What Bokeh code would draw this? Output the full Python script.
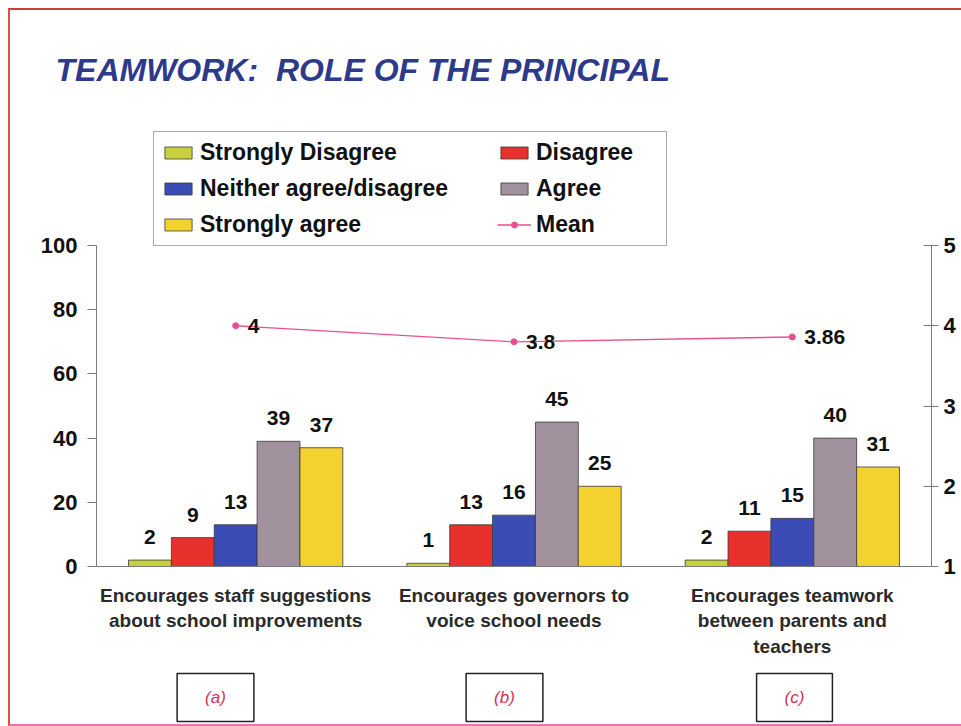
from bokeh.plotting import figure
from bokeh.layouts import column
from bokeh.models import (FactorRange, Range1d, LinearAxis, Legend, LegendItem,
                          Label, ColumnDataSource)
from bokeh.transform import dodge
from bokeh.core.properties import value
from bokeh.embed import file_html
from bokeh.resources import INLINE

# ---------------- data ----------------
categories = [
    "Encourages staff suggestions\nabout school improvements",
    "Encourages governors to\nvoice school needs",
    "Encourages teamwork\nbetween parents and\nteachers",
]
series_names = ["Strongly Disagree", "Disagree", "Neither agree/disagree",
                "Agree", "Strongly agree"]
strongly_disagree = [2, 1, 2]
disagree = [9, 13, 11]
neither = [13, 16, 15]
agree = [39, 45, 40]
strongly_agree = [37, 25, 31]
mean_values = [4, 3.8, 3.86]
mean_labels = ["4", "3.8", "3.86"]
panel_labels = ["(a)", "(b)", "(c)"]
left_ticks = [0, 20, 40, 60, 80, 100]
right_ticks = [1, 2, 3, 4, 5]
title_text = "TEAMWORK:\u00a0 ROLE OF THE PRINCIPAL"

series_colors = ["#c9d03e", "#e8302c", "#3b4cb6", "#a0919d", "#f3d12f"]
FONT = value("Liberation Sans")

W = 951
TOP_H = 95      # title strip
MAIN_H = 562    # axes + legend
BOT_H = 57      # (a) (b) (c) boxes
FRAME_H = 321   # pixel height of 0..100
EXT = (MAIN_H - 101) / FRAME_H   # frame extends above 100 to hold the legend


def free_frame(fig):
    """Let a strip figure use its whole canvas as frame; return x shift."""
    if "frame_align" in fig.properties():
        fig.frame_align = False
        return 0
    return 86


# ---------------- title strip ----------------
pt = figure(width=W, height=TOP_H, x_range=Range1d(0, 1), y_range=Range1d(0, 1),
            x_axis_type=None, y_axis_type=None, output_backend="svg",
            toolbar_location=None, min_border=0)
pt.outline_line_color = None
pt.grid.grid_line_color = None
sh = free_frame(pt)
pt.add_layout(Label(x=45 - sh, y=36, x_units="screen", y_units="screen",
                    text=title_text, text_font="Liberation Sans",
                    text_font_size="32px", text_font_style="bold italic",
                    text_color="#2d3a8c", text_baseline="alphabetic"))

# ---------------- main chart ----------------
p = figure(width=W, height=MAIN_H,
           x_range=FactorRange(*categories), y_range=Range1d(0, 100 * EXT),
           output_backend="svg", toolbar_location=None,
           min_border_left=86, min_border_right=30,
           min_border_top=0, min_border_bottom=101)
p.outline_line_color = None
p.xgrid.grid_line_color = None
p.ygrid.grid_line_color = None

ya = p.yaxis[0]
ya.ticker = left_ticks
ya.bounds = (0, 100)
ya.major_tick_in = 0
ya.major_tick_out = 9
ya.minor_tick_line_color = None
ya.axis_line_color = "#7a7a7a"
ya.major_tick_line_color = "#7a7a7a"
ya.major_label_text_font = "Liberation Sans"
ya.major_label_text_font_size = "22px"
ya.major_label_text_font_style = "bold"
ya.major_label_text_color = "#111111"
ya.major_label_standoff = 10

p.extra_y_ranges = {"mean": Range1d(1, 1 + 4 * EXT)}
ra = LinearAxis(y_range_name="mean", ticker=right_ticks, bounds=(1, 5))
ra.major_tick_in = 8
ra.major_tick_out = 7
ra.minor_tick_line_color = None
ra.axis_line_color = "#7a7a7a"
ra.major_tick_line_color = "#7a7a7a"
ra.major_label_text_font = "Liberation Sans"
ra.major_label_text_font_size = "22px"
ra.major_label_text_font_style = "bold"
ra.major_label_text_color = "#111111"
ra.major_label_standoff = 5
p.add_layout(ra, "right")

xa = p.xaxis[0]
xa.major_tick_line_color = None
xa.minor_tick_line_color = None
xa.axis_line_color = "#7a7a7a"
xa.major_label_text_font = "Liberation Sans"
xa.major_label_text_font_size = "19px"
xa.major_label_text_font_style = "bold"
xa.major_label_text_color = "#2a2a2a"
xa.major_label_text_line_height = 1.22
xa.major_label_standoff = 12

bw = 0.154
offsets = [-2 * bw, -bw, 0.0, bw, 2 * bw]
src = ColumnDataSource(dict(cat=categories, sd=strongly_disagree, d=disagree,
                            n=neither, a=agree, sa=strongly_agree,
                            sd_t=[str(v) for v in strongly_disagree],
                            d_t=[str(v) for v in disagree],
                            n_t=[str(v) for v in neither],
                            a_t=[str(v) for v in agree],
                            sa_t=[str(v) for v in strongly_agree],
                            mean=mean_values, mean_t=mean_labels))
keys = ["sd", "d", "n", "a", "sa"]
bar_renderers = []
for k, off, col in zip(keys, offsets, series_colors):
    r = p.vbar(x=dodge("cat", off, range=p.x_range), top=k, width=bw, bottom=0,
               source=src, fill_color=col, line_color="#3a3a3a", line_width=0.8)
    bar_renderers.append(r)
    p.text(x=dodge("cat", off, range=p.x_range), y=k, text=k + "_t", source=src,
           text_align="center", text_baseline="alphabetic", y_offset=-23,
           text_font=FONT, text_font_size="21px", text_font_style="bold",
           text_color="#111111")

mc = "#e8508f"
ml = p.line(x="cat", y="mean", source=src, y_range_name="mean",
            line_color=mc, line_width=1.3)
ms = p.scatter(x="cat", y="mean", source=src, y_range_name="mean",
               marker="circle", size=6, fill_color=mc, line_color=mc)
p.text(x="cat", y="mean", text="mean_t", source=src, y_range_name="mean",
       x_offset=12, text_align="left", text_baseline="middle",
       text_font=FONT, text_font_size="21px", text_font_style="bold",
       text_color="#111111")


def make_legend(items, loc, border):
    return Legend(items=items, location=loc, margin=0, padding=7, spacing=9,
                  label_height=27, glyph_height=15, glyph_width=34,
                  label_standoff=5,
                  label_text_font="Liberation Sans", label_text_font_size="23px",
                  label_text_font_style="bold", label_text_color="#111111",
                  background_fill_color="white",
                  background_fill_alpha=1.0 if border else 0.0,
                  border_line_color="#555555" if border else None,
                  border_line_width=1)


items1 = [LegendItem(label=series_names[0], renderers=[bar_renderers[0]]),
          LegendItem(label=series_names[2], renderers=[bar_renderers[2]]),
          LegendItem(label=series_names[4], renderers=[bar_renderers[4]])]
items2 = [LegendItem(label=series_names[1], renderers=[bar_renderers[1]]),
          LegendItem(label=series_names[3], renderers=[bar_renderers[3]]),
          LegendItem(label="Mean", renderers=[ml, ms])]
leg1 = make_legend(items1, (57, 320), True)
leg1.label_width = 459
leg2 = make_legend(items2, (401, 328), False)
p.add_layout(leg1, "center")
p.add_layout(leg2, "center")

# ---------------- (a) (b) (c) boxes ----------------
pb = figure(width=W, height=BOT_H, x_range=Range1d(0, 1), y_range=Range1d(0, 1),
            x_axis_type=None, y_axis_type=None, output_backend="svg",
            toolbar_location=None, min_border=0)
pb.outline_line_color = None
pb.grid.grid_line_color = None
shb = free_frame(pb)
box_x = [205, 494, 784]
for lbl, bx in zip(panel_labels, box_x):
    pb.add_layout(Label(x=bx - shb, y=BOT_H - 30, x_units="screen", y_units="screen",
                        text=lbl, text_font="Liberation Sans",
                        text_font_size="17px", text_font_style="italic",
                        text_color="#d83052", text_align="center",
                        text_baseline="middle",
                        padding=dict(left=28, right=28, top=14, bottom=15),
                        border_line_color="#222222", border_line_width=1.5,
                        background_fill_color=None))

layout = column(pt, p, pb, spacing=0)
layout.styles = {"margin-left": "8px", "margin-top": "8px",
                 "border-left": "2px solid #e0503f",
                 "border-top": "2px solid #c8402e",
                 "border-bottom": "2px solid #f070b0"}

open("out.html", "w").write(file_html(layout, INLINE))
